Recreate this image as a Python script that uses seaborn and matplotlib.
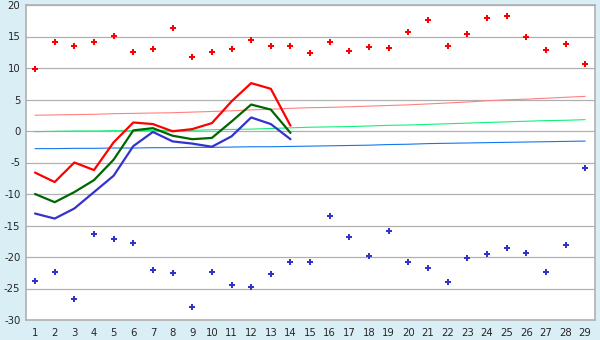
import matplotlib
matplotlib.use("Agg")
import matplotlib.pyplot as plt
import seaborn as sns
import pandas as pd

days = list(range(1, 30))

# Observed extremes (markers)
abs_max = [9.8, 14.1, 13.5, 14.1, 15.1, 12.5, 13.0, 16.3, 11.7, 12.5,
           13.0, 14.4, 13.5, 13.5, 12.4, 14.1, 12.7, 13.3, 13.2, 15.7,
           17.6, 13.5, 15.4, 17.9, 18.25, 14.9, 12.9, 13.8, 10.6]
abs_min = [-23.8, -22.4, -26.7, -16.35, -17.1, -17.8, -22.1, -22.5, -27.9, -22.4,
           -24.4, -24.8, -22.7, -20.8, -20.8, -13.5, -16.8, -19.8, -15.9, -20.8,
           -21.75, -24.0, -20.2, -19.5, -18.6, -19.4, -22.4, -18.1, -5.9]

# Current period (days 1-14)
cur_days = list(range(1, 15))
cur_max = [-6.6, -8.1, -5.0, -6.2, -1.8, 1.35, 1.1, -0.05, 0.3, 1.25, 4.7, 7.6, 6.7, 0.85]
cur_mean = [-10.0, -11.3, -9.7, -7.8, -4.55, 0.1, 0.45, -0.75, -1.3, -1.1, 1.5, 4.2, 3.4, -0.3]
cur_min = [-13.1, -13.9, -12.3, -9.7, -7.1, -2.4, -0.15, -1.65, -2.0, -2.5, -0.85, 2.15, 1.1, -1.3]

# Normals
norm_max = [2.5, 2.55, 2.6, 2.65, 2.75, 2.8, 2.85, 2.9, 3.0, 3.1, 3.2, 3.35, 3.45, 3.6, 3.7,
            3.75, 3.85, 3.95, 4.05, 4.15, 4.3, 4.45, 4.6, 4.8, 4.95, 5.05, 5.2, 5.35, 5.5]
norm_mean = [-0.1, -0.05, 0.0, 0.0, 0.05, 0.05, 0.1, 0.1, 0.1, 0.2, 0.25, 0.3, 0.4, 0.5, 0.6,
             0.65, 0.7, 0.8, 0.9, 0.95, 1.05, 1.15, 1.25, 1.35, 1.45, 1.55, 1.65, 1.7, 1.8]
norm_min = [-2.8, -2.8, -2.75, -2.75, -2.7, -2.7, -2.65, -2.65, -2.6, -2.6, -2.55, -2.5, -2.5,
            -2.45, -2.4, -2.35, -2.3, -2.25, -2.15, -2.1, -2.0, -1.95, -1.9, -1.85, -1.8,
            -1.75, -1.7, -1.65, -1.6]

y_ticks = [-30, -25, -20, -15, -10, -5, 0, 5, 10, 15, 20]

sns.set_style("white")
plt.rcParams['font.family'] = ['DejaVu Sans']

BG = "#daeff5"
GRID = "#b0b0b0"

fig = plt.figure(figsize=(6.0, 3.4), dpi=100, facecolor=BG)
ax = fig.add_axes([26/600, 1 - 320/340, (595 - 26)/600, (320 - 5)/340])
ax.set_facecolor("white")

for yv in y_ticks:
    ax.axhline(yv, color=GRID, lw=0.9, zorder=0)

sns.lineplot(x=days, y=norm_max, color="#ff8080", lw=0.8, ax=ax, zorder=2)
sns.lineplot(x=days, y=norm_mean, color="#11f07a", lw=0.8, ax=ax, zorder=2)
sns.lineplot(x=days, y=norm_min, color="#1177ee", lw=0.8, ax=ax, zorder=2)

sns.lineplot(x=cur_days, y=cur_max, color="#ff0000", lw=1.6, ax=ax, zorder=3)
sns.lineplot(x=cur_days, y=cur_mean, color="#006600", lw=1.6, ax=ax, zorder=3)
sns.lineplot(x=cur_days, y=cur_min, color="#3333cc", lw=1.6, ax=ax, zorder=3)

sns.scatterplot(x=days, y=abs_max, color="#ff0000", marker="P", s=18, linewidth=0, ax=ax, zorder=4)
sns.scatterplot(x=days, y=abs_min, color="#3333cc", marker="P", s=18, linewidth=0, ax=ax, zorder=4)

ax.set_xlim(0.54, 29.5)
ax.set_ylim(-30, 20)
ax.set_xticks(days)
ax.set_xticklabels([str(d) for d in days])
ax.set_yticks(y_ticks)
ax.set_yticklabels([str(v) for v in y_ticks])
ax.tick_params(axis="x", direction="out", length=4, width=0.8, color="#222222", labelsize=7.3, pad=2)
ax.tick_params(axis="y", direction="out", length=3, width=0.8, color="#222222", labelsize=7.3, pad=1)
ax.set_xlabel("")
ax.set_ylabel("")
for s in ax.spines.values():
    s.set_visible(True)
    s.set_color(GRID)
    s.set_linewidth(1.2)

fig.savefig("out.png", dpi=100, facecolor=BG)
